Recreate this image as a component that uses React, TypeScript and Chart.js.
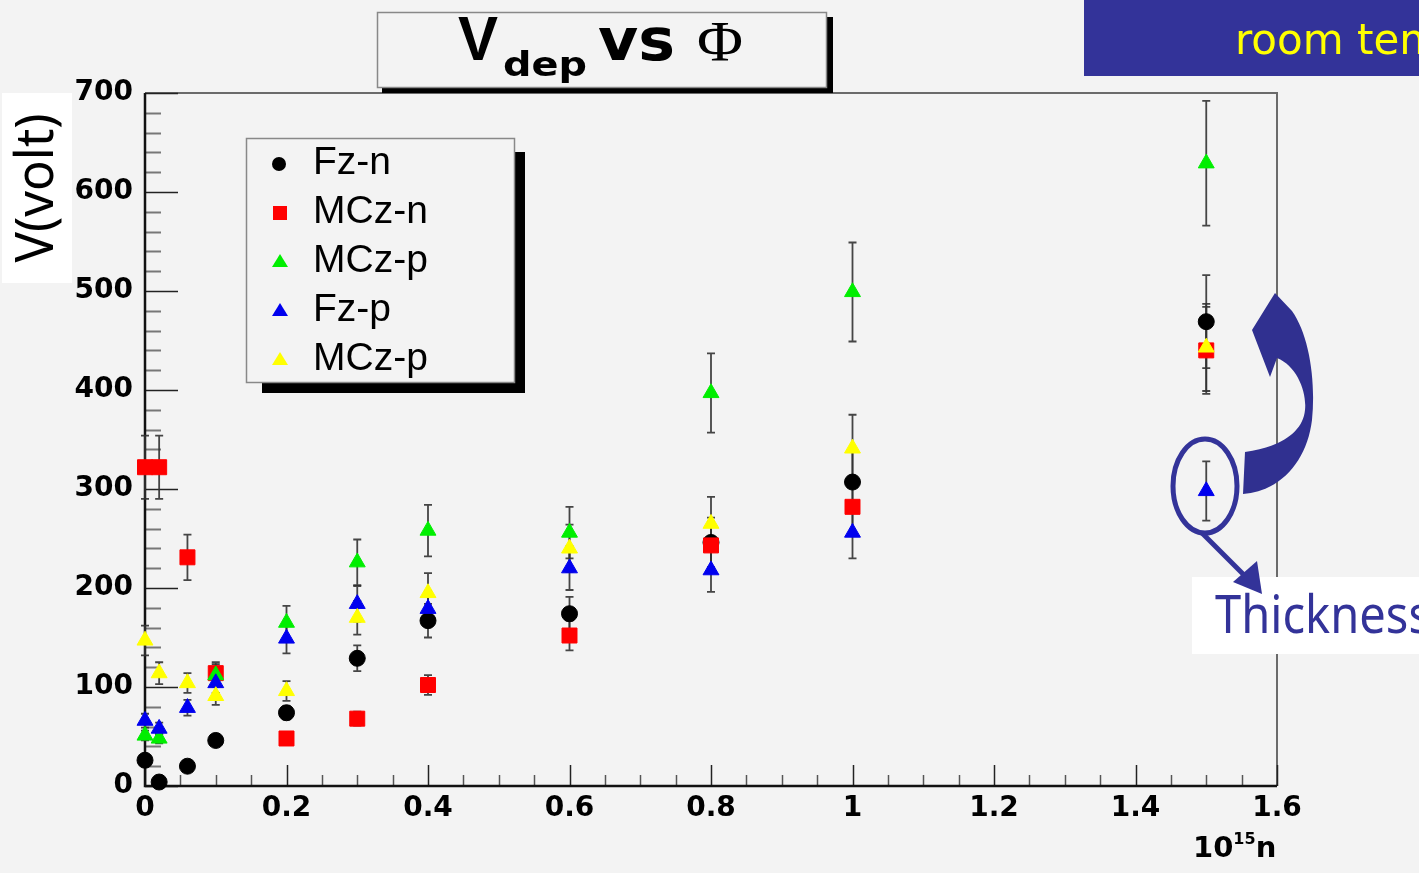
import React, { useEffect, useRef } from 'react';
import { Chart, registerables } from 'chart.js';
Chart.register(...registerables);

// ---------- data ----------
const fluence = [0, 0.02, 0.06, 0.1, 0.2, 0.3, 0.4, 0.6, 0.8, 1.0, 1.5];
const fzN = [26, 4, 20, 46, 74, 129, 167, 174, 246, 307, 469];
const fzNErr = [3, 1, 2, 5, 7, 13, 17, 17, 25, 31, 47];
const mczN = [322, 322, 231, 114, 48, 68, 102, 152, 243, 282, 440];
const mczNErr = [32, 32, 23, 11, 5, 7, 10, 15, 24, 28, 44];
const mczP = [51, 48, null, 112, 165, 226, 258, 256, 397, 499, 629];
const mczPErr = [5, 5, null, 11, 17, 23, 26, 26, 40, 50, 63];
const fzP = [66, 58, 79, 104, 149, 184, 179, 220, 218, 256, 298];
const fzPErr = [7, 6, 8, 10, 15, 18, 18, 22, 22, 26, 30];
const mczP2 = [147, 114, 104, 91, 96, 170, 195, 240, 265, 341, 443];
const mczP2Err = [15, 11, 10, 9, 10, 17, 20, 24, 27, 34, 44];
const seriesNames = ['Fz-n', 'MCz-n', 'MCz-p', 'Fz-p', 'MCz-p'];
const seriesColors = ['#000000', '#ff0000', '#00ee00', '#0000ee', '#ffff00'];
const seriesStyles = ['circle', 'rect', 'triangle', 'triangle', 'triangle'];
const seriesRadius = [8, 10.6, 9.2, 9.2, 9.2];
const xTickLabels = ['0', '0.2', '0.4', '0.6', '0.8', '1', '1.2', '1.4', '1.6'];
const yTickLabels = ['0', '100', '200', '300', '400', '500', '600', '700'];
const xMin = 0, xMax = 1.6, xStep = 0.2, xMinor = 0.05;
const yMin = 0, yMax = 700, yStep = 100, yMinor = 20;

const W = 1419, H = 873;
const BG = '#f3f3f3';
const NAVY = '#333399';

function build(vals: (number | null)[], errs: (number | null)[]) {
  const out: any[] = [];
  fluence.forEach((x, i) => {
    if (vals[i] != null) out.push({ x, y: vals[i], err: errs[i] });
  });
  return out;
}

const framePlugin = {
  id: 'rootFrame',
  beforeDatasetsDraw(chart: any) {
    const { ctx, chartArea: a, scales } = chart;
    const xs = scales.x, ys = scales.y;
    ctx.save();
    ctx.strokeStyle = '#6a6a6a';
    ctx.lineWidth = 2;
    ctx.beginPath();
    ctx.moveTo(a.left, a.top); ctx.lineTo(a.right, a.top); ctx.lineTo(a.right, a.bottom);
    ctx.stroke();
    for (let v = yMin; v <= yMax + 1e-9; v += yMinor) {
      const major = Math.abs(v / yStep - Math.round(v / yStep)) < 1e-6;
      const py = Math.round(ys.getPixelForValue(v)) + 0.5;
      ctx.strokeStyle = major ? '#222' : '#777';
      ctx.lineWidth = major ? 1.5 : 2;
      ctx.beginPath();
      ctx.moveTo(a.left, py); ctx.lineTo(a.left + (major ? 33 : 16), py);
      ctx.stroke();
    }
    const n = Math.round((xMax - xMin) / xMinor);
    for (let k = 0; k <= n; k++) {
      const v = xMin + k * xMinor;
      const major = Math.abs(v / xStep - Math.round(v / xStep)) < 1e-6;
      const px = Math.round(xs.getPixelForValue(v)) + 0.5;
      ctx.strokeStyle = major ? '#222' : '#555';
      ctx.lineWidth = 1.5;
      ctx.beginPath();
      ctx.moveTo(px, a.bottom); ctx.lineTo(px, a.bottom - (major ? 21 : 11));
      ctx.stroke();
    }
    ctx.strokeStyle = '#111';
    ctx.lineWidth = 2.5;
    ctx.beginPath();
    ctx.moveTo(a.left, a.top); ctx.lineTo(a.left, a.bottom); ctx.lineTo(a.right, a.bottom);
    ctx.stroke();
    ctx.restore();
  },
};

const errorBarPlugin = {
  id: 'errorBars',
  beforeDatasetsDraw(chart: any) {
    const { ctx, scales } = chart;
    const xs = scales.x, ys = scales.y;
    ctx.save();
    ctx.strokeStyle = 'rgba(50,50,50,0.9)';
    ctx.lineWidth = 1.8;
    chart.data.datasets.forEach((ds: any) => {
      ds.data.forEach((p: any) => {
        if (!p || p.err == null) return;
        const px = xs.getPixelForValue(p.x);
        const top = ys.getPixelForValue(p.y + p.err);
        const bot = ys.getPixelForValue(p.y - p.err);
        ctx.beginPath();
        ctx.moveTo(px, top); ctx.lineTo(px, bot);
        ctx.moveTo(px - 4, top); ctx.lineTo(px + 4, top);
        ctx.moveTo(px - 4, bot); ctx.lineTo(px + 4, bot);
        ctx.stroke();
      });
    });
    ctx.restore();
  },
};

export default function App() {
  const canvasRef = useRef<HTMLCanvasElement>(null);

  useEffect(() => {
    const canvas = canvasRef.current!;
    const values = [fzN, mczN, mczP, fzP, mczP2];
    const errors = [fzNErr, mczNErr, mczPErr, fzPErr, mczP2Err];
    const datasets = seriesNames.map((name, i) => ({
      label: name,
      data: build(values[i], errors[i]),
      pointStyle: seriesStyles[i],
      pointRadius: seriesRadius[i],
      pointHoverRadius: seriesRadius[i],
      backgroundColor: seriesColors[i],
      borderColor: seriesColors[i],
      borderWidth: 1,
      showLine: false,
      clip: false,
      order: seriesNames.length - i,
    }));
    const tickFont = { family: '"DejaVu Sans", sans-serif', weight: 'bold' as const, size: 28 };
    const chart = new Chart(canvas, {
      type: 'scatter',
      data: { datasets },
      options: {
        responsive: false,
        maintainAspectRatio: false,
        animation: false,
        events: [],
        layout: { padding: { left: 45, right: 142, top: 93, bottom: 27 } },
        plugins: { legend: { display: false }, tooltip: { enabled: false }, title: { display: false } },
        scales: {
          x: {
            type: 'linear',
            min: xMin,
            max: xMax,
            grid: { display: false, drawTicks: false },
            border: { display: false },
            ticks: {
              stepSize: xStep, color: '#000', font: tickFont, padding: 6, autoSkip: false, maxRotation: 0,
              callback: (v: any) => xTickLabels[Math.round((Number(v) - xMin) / xStep)] ?? '',
            },
            afterFit: (s: any) => { s.height = 60; },
          },
          y: {
            type: 'linear',
            min: yMin,
            max: yMax,
            grid: { display: false, drawTicks: false },
            border: { display: false },
            ticks: {
              stepSize: yStep, color: '#000', font: tickFont, padding: 12,
              callback: (v: any) => yTickLabels[Math.round((Number(v) - yMin) / yStep)] ?? '',
            },
            afterFit: (s: any) => { s.width = 100; },
          },
        },
      },
      plugins: [framePlugin, errorBarPlugin],
    } as any);
    return () => chart.destroy();
  }, []);

  const legendRows = [164, 213, 262, 311, 360];
  const tri = (cx: number, cy: number) => `${cx},${cy - 8} ${cx - 8},${cy + 5} ${cx + 8},${cy + 5}`;

  return (
    <div style={{ position: 'absolute', left: 0, top: 0, width: W, height: H, background: BG, overflow: 'hidden' }}>
      <canvas ref={canvasRef} width={W} height={H} style={{ position: 'absolute', left: 0, top: 0, width: W, height: H }} />
      <svg width={W} height={H} style={{ position: 'absolute', left: 0, top: 0, pointerEvents: 'none' }}>
        {/* title box */}
        <rect x={382} y={17} width={451} height={76} fill="#000" />
        <rect x={377.5} y={12.5} width={449} height={75} fill={BG} stroke="#888" strokeWidth={1.5} />
        <text x={458} y={60} fontFamily='"Liberation Sans", Arial, sans-serif' fontWeight="bold" fontSize={63} textLength={40} lengthAdjust="spacingAndGlyphs" fill="#000">V</text>
        <text x={503} y={76} fontFamily='"DejaVu Sans", sans-serif' fontWeight="bold" fontSize={33} textLength={84} lengthAdjust="spacingAndGlyphs" fill="#000">dep</text>
        <text x={598} y={60} fontFamily='"DejaVu Sans", sans-serif' fontWeight="bold" fontSize={58} textLength={77} lengthAdjust="spacingAndGlyphs" fill="#000">vs</text>
        <text x={697} y={61} fontFamily='"Liberation Serif", serif' fontSize={58} textLength={46} lengthAdjust="spacingAndGlyphs" fill="#000">Φ</text>

        {/* legend */}
        <rect x={262} y={152} width={263} height={241} fill="#000" />
        <rect x={246.5} y={138.5} width={268} height={244} fill={BG} stroke="#888" strokeWidth={1.5} />
        <circle cx={279} cy={legendRows[0]} r={7} fill={seriesColors[0]} />
        <rect x={273} y={legendRows[1] - 7} width={14} height={14} fill={seriesColors[1]} />
        <polygon points={tri(280, legendRows[2])} fill={seriesColors[2]} />
        <polygon points={tri(280, legendRows[3])} fill={seriesColors[3]} />
        <polygon points={tri(280, legendRows[4])} fill={seriesColors[4]} />
        {seriesNames.map((n, i) => (
          <text key={i} x={313} y={legendRows[i] + 10} fontFamily='"Liberation Sans", Arial, sans-serif' fontSize={39} fill="#000">{n}</text>
        ))}

        {/* y-axis title */}
        <rect x={2} y={93} width={70} height={190} fill="#fff" />
        <text transform="translate(53,188) rotate(-90)" textAnchor="middle" fontFamily='"Noto Sans", sans-serif' fontSize={53} textLength={149} lengthAdjust="spacingAndGlyphs" fill="#000">V(volt)</text>

        {/* x-axis title */}
        <text x={1193} y={857} fontFamily='"DejaVu Sans", sans-serif' fontWeight="bold" fontSize={29} fill="#000">
          10<tspan fontSize={16} dy={-13}>15</tspan><tspan fontSize={29} dy={13}>n</tspan>
        </text>

        {/* top-right banner */}
        <rect x={1084} y={0} width={335} height={76} fill={NAVY} />
        <text x={1235} y={54} fontFamily='"DejaVu Sans", sans-serif' fontSize={42} fill="#ffff00">room temperature</text>

        {/* Thickness box */}
        <rect x={1192} y={577} width={227} height={77} fill="#fff" />
        <text x={1215} y={633} fontFamily='"Noto Sans", sans-serif' fontSize={52} textLength={216} lengthAdjust="spacingAndGlyphs" fill={NAVY}>Thickness</text>

        {/* annotations */}
        <ellipse cx={1205} cy={486} rx={32} ry={47} fill="none" stroke={NAVY} strokeWidth={5} />
        <path d="M1275,293 L1252,330 L1270,377 L1277,358 C1297,366 1307,392 1305,410 C1303,432 1281,447 1245,452 L1243,494 C1281,491 1307,461 1312,420 C1316,380 1309,335 1292,311 Z" fill="#303090" />
        <line x1={1202} y1={533} x2={1246} y2={577} stroke={NAVY} strokeWidth={5} />
        <polygon points="1262,594 1233,582 1257,561" fill={NAVY} />
      </svg>
    </div>
  );
}
